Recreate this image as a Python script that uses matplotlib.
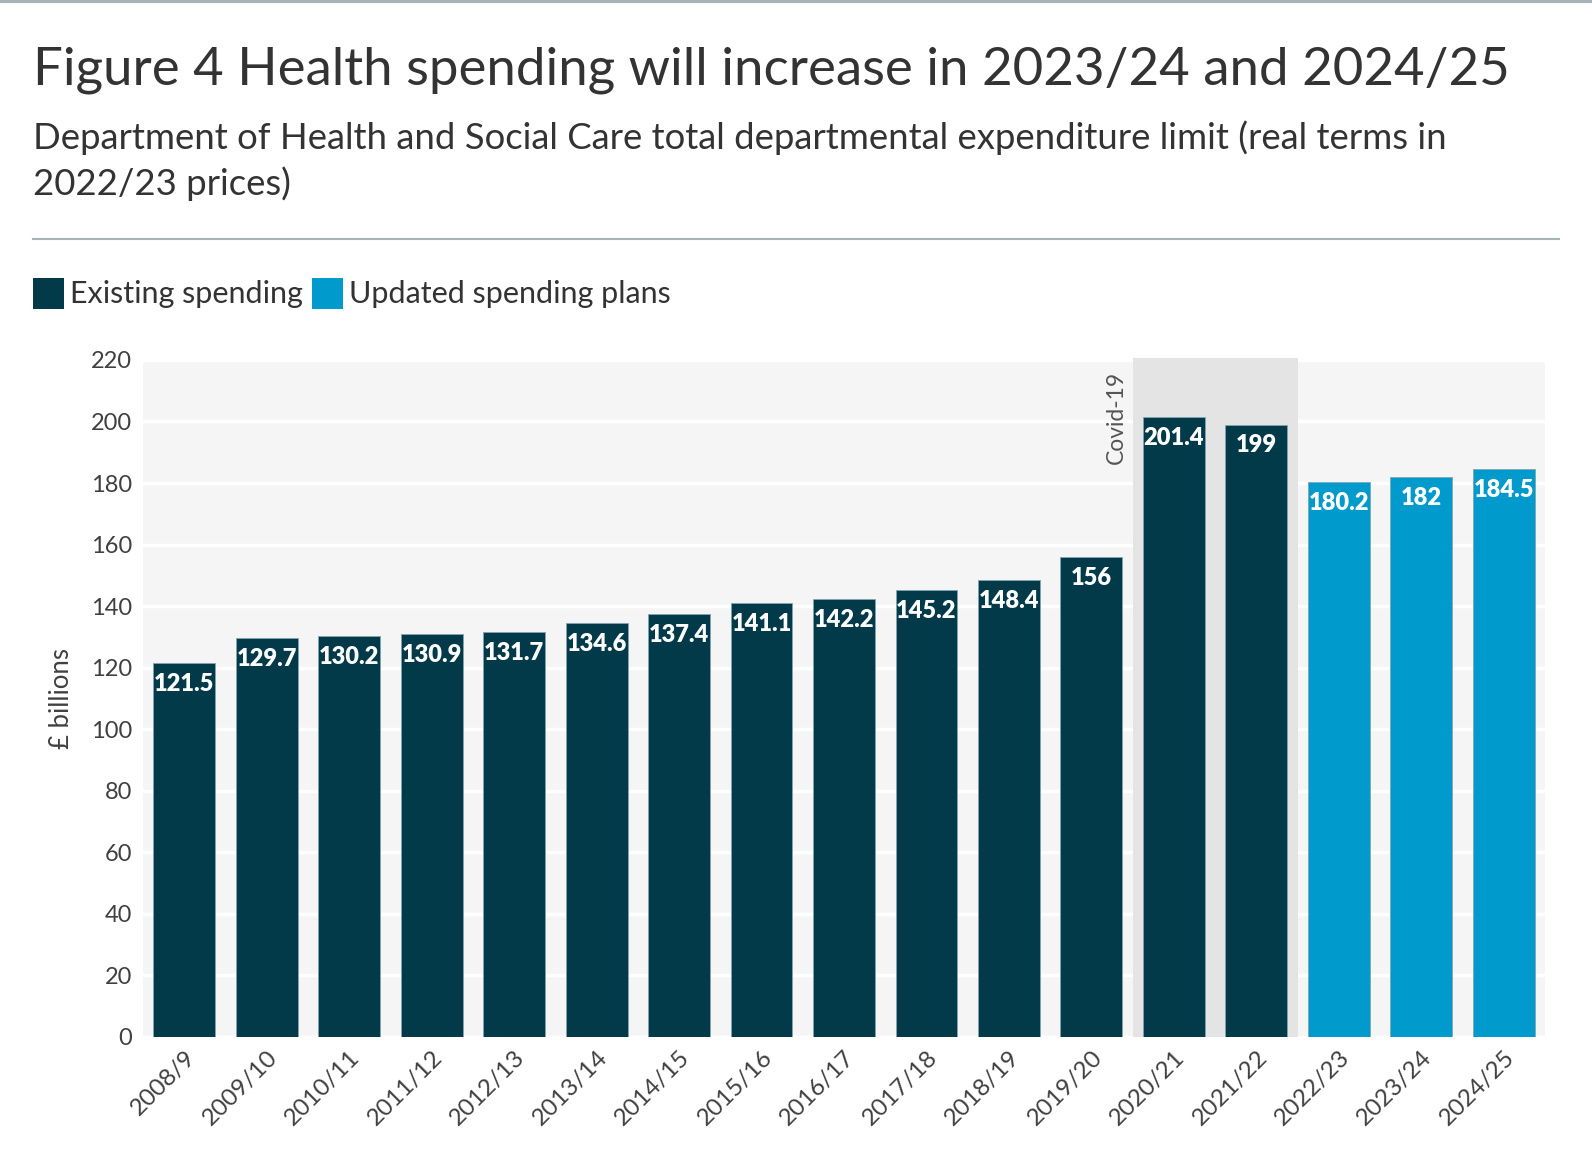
import matplotlib.pyplot as plt
from matplotlib.patches import Rectangle

plt.rcParams['font.family'] = ['Lato', 'DejaVu Sans']

# data
years = ["2008/9", "2009/10", "2010/11", "2011/12", "2012/13", "2013/14", "2014/15",
         "2015/16", "2016/17", "2017/18", "2018/19", "2019/20", "2020/21", "2021/22",
         "2022/23", "2023/24", "2024/25"]
values = [121.5, 129.7, 130.2, 130.9, 131.7, 134.6, 137.4, 141.1, 142.2, 145.2,
          148.4, 156, 201.4, 199, 180.2, 182, 184.5]
series = ["Existing"] * 14 + ["Updated"] * 3
yticks = [0, 20, 40, 60, 80, 100, 120, 140, 160, 180, 200, 220]

dark = '#033a4a'
light = '#009bcc'
text_col = '#404040'

fig = plt.figure(figsize=(15.92, 11.5), dpi=100)
ax = fig.add_axes([0.0898, 0.0983, 0.8807, 0.5887])

ax.set_facecolor('#f5f5f5')
ax.set_xlim(-0.5, len(years) - 0.5)
ax.set_ylim(0, 220)

# covid shading
ax.add_patch(Rectangle((11.5, 0), 2, 220.6, facecolor='#e4e4e4', edgecolor='none',
                       zorder=1.5, clip_on=False))
ax.text(11.3, 216.5, "Covid-19", rotation=90, ha='center', va='top',
        fontsize=16.5, color='#555555')

ax.set_yticks(yticks)
ax.grid(axis='y', color='white', linewidth=2.5, zorder=1)
ax.set_axisbelow(True)

colors = [dark if s == "Existing" else light for s in series]
bars = ax.bar(range(len(years)), values, width=0.75, color=colors,
              edgecolor='#7fa6b2', linewidth=0.6, zorder=2)
for i, v in enumerate(values):
    lab = f"{v:g}"
    ax.text(i, v - 3.2, lab, ha='center', va='top', color='white',
            fontsize=17, fontweight='heavy', zorder=3)

ax.set_xticks(range(len(years)))
ax.set_xticklabels(years, rotation=45, ha='right', rotation_mode='anchor',
                   fontsize=17.5, color=text_col)
ax.tick_params(axis='y', labelsize=17, labelcolor=text_col, length=0, pad=8)
ax.tick_params(axis='x', length=0, pad=7)
for s in ax.spines.values():
    s.set_visible(False)
ax.set_ylabel("£ billions", fontsize=18.5, color=text_col, labelpad=12)

# titles
fig.text(0.021, 0.939, "Figure 4 Health spending will increase in 2023/24 and 2024/25",
         fontsize=38, color='#333333', va='center')
fig.text(0.021, 0.880, "Department of Health and Social Care total departmental expenditure limit (real terms in",
         fontsize=26.3, color='#333333', va='center')
fig.text(0.021, 0.840, "2022/23 prices)", fontsize=26.3, color='#333333', va='center')

# separator lines
fig.add_artist(plt.Line2D([0.021, 0.979], [0.792, 0.792], color='#a7b4b6', linewidth=1.5))
fig.add_artist(plt.Line2D([0, 1], [0.999, 0.999], color='#a7b4b6', linewidth=3))

# legend
fig.add_artist(Rectangle((0.021, 0.731), 0.0195, 0.027, facecolor=dark, transform=fig.transFigure))
fig.text(0.044, 0.7445, "Existing spending", fontsize=22, color='#333333', va='center')
fig.add_artist(Rectangle((0.196, 0.731), 0.0195, 0.027, facecolor=light, transform=fig.transFigure))
fig.text(0.219, 0.7445, "Updated spending plans", fontsize=22, color='#333333', va='center')

plt.savefig('out.png', dpi=100)
